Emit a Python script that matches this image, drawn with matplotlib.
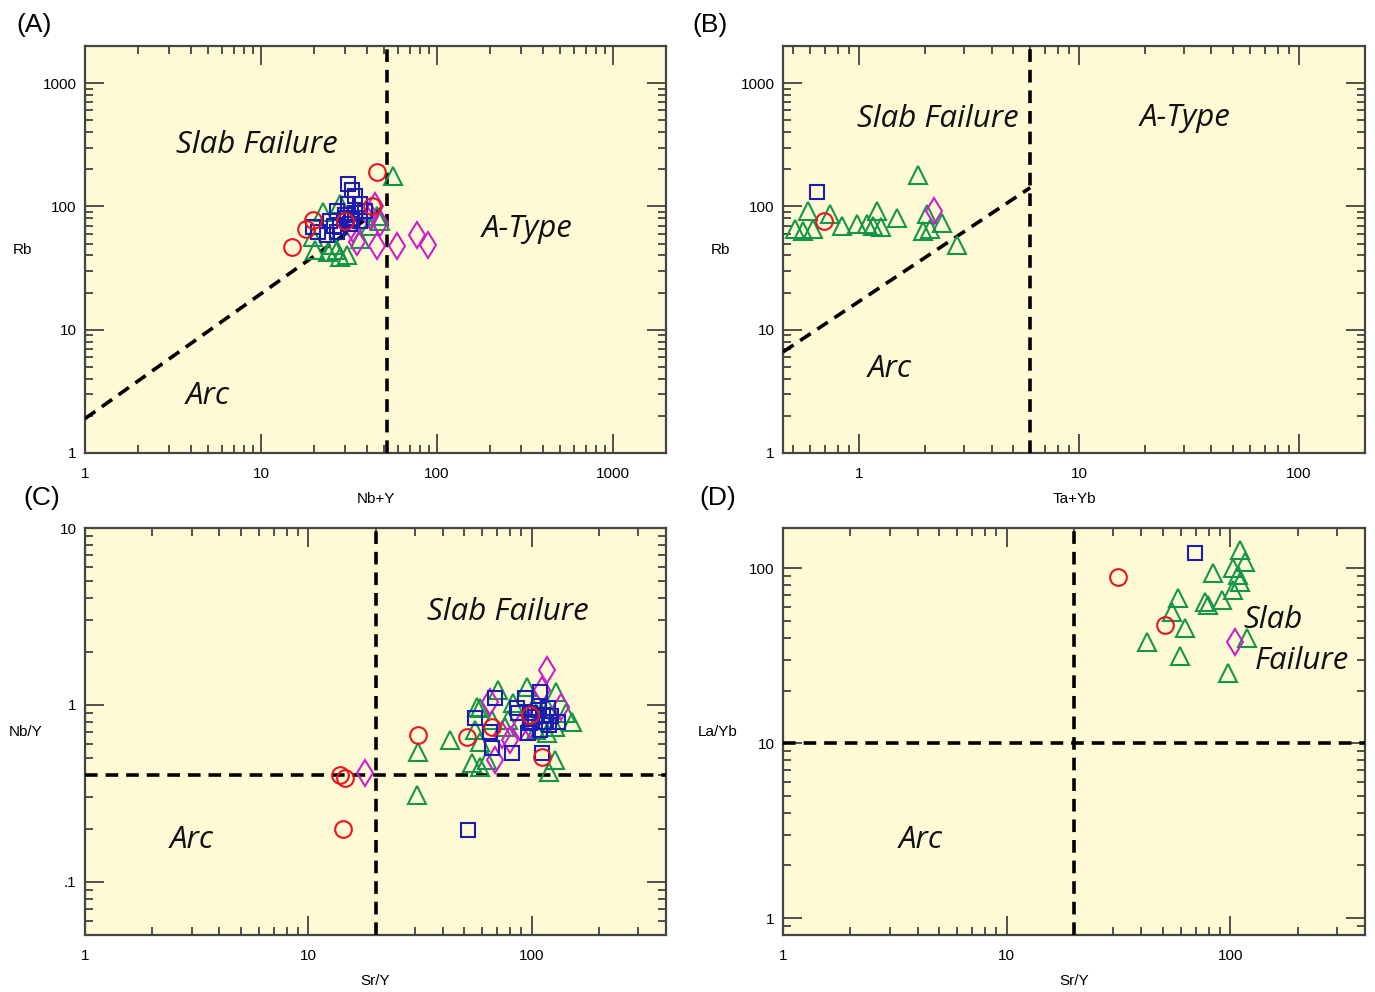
import numpy as np
import matplotlib
matplotlib.use("Agg")
import matplotlib.pyplot as plt
from matplotlib.ticker import FixedLocator, FixedFormatter, LogLocator, NullFormatter

# ---- data ----
# (A) Rb vs Nb+Y
a_red_x = [15.0, 18.0, 19.7, 30, 43, 45.6]
a_red_y = [47, 65, 78, 75.5, 100, 189]
a_blue_x = [31.2, 32.9, 34.2, 31.2, 36.5, 27, 24.7, 19.7, 21.1, 23.7, 27, 36.5, 39, 30.8, 28.1, 32,
            30, 34, 26, 33]
a_blue_y = [151, 137, 121, 104, 104, 91, 75.5, 67.5, 61.5, 59, 61.5, 75.5, 91, 81, 67.5, 71.4,
            85, 88, 70, 78]
a_green_x = [56, 20.3, 24, 28.1, 27, 22.5, 28.1, 36.5, 41.6, 45.6, 19.7, 30.8, 25.7, 47.5]
a_green_y = [175, 44.7, 42.3, 39.2, 44.7, 89.4, 104, 54, 68.8, 83, 56, 40.7, 49, 75.5]
a_mag_x = [45.6, 59.3, 77, 89, 35.1, 33.3, 41.6, 47.5, 44.3]
a_mag_y = [47.3, 47.3, 59, 49, 51, 65, 83, 74, 100]

# (B) Rb vs Ta+Yb
b_red_x = [0.693]
b_red_y = [75.5]
b_blue_x = [0.644]
b_blue_y = [130]
b_green_x = [1.85, 0.512, 0.586, 0.617, 0.556, 0.738, 0.837, 0.98, 1.09, 1.21, 1.16, 1.25,
             1.49, 1.95, 2.1, 2.38, 2.79, 2.04]
b_green_y = [179, 65, 91, 65, 62.6, 86, 68.8, 71.4, 71.4, 91, 68.8, 67.5,
             81, 62.6, 65, 72.8, 49, 86]
b_mag_x = [2.19]
b_mag_y = [91]

# (C) Nb/Y vs Sr/Y
c_red_x = [13.8, 14.6, 14.3, 30.9, 51.2, 66.2, 98, 111]
c_red_y = [0.40, 0.387, 0.20, 0.677, 0.66, 0.75, 0.878, 0.508]
c_blue_x = [68.3, 55.6, 64.9, 66.2, 81.4, 93, 109, 86.5, 98, 118, 131, 109, 96, 111, 85.7, 120, 98, 51.7,
            104, 112, 122, 108, 116, 100]
c_blue_y = [1.095, 0.845, 0.704, 0.572, 0.536, 1.095, 1.18, 0.901, 0.901, 0.962, 0.801, 0.722,
            0.695, 0.536, 0.962, 0.771, 0.791, 0.197,
            0.85, 0.88, 0.86, 0.93, 0.80, 0.80]
c_green_x = [30.9, 30.7, 43, 56.7, 54, 58.5, 120, 127, 70.5, 95, 129, 143, 151, 58.5, 55.6, 58.5,
             66.2, 82.2, 78.1, 105, 117, 127, 75.7, 62.9, 110, 118, 102]
c_green_y = [0.54, 0.31, 0.634, 0.97, 0.47, 0.447, 0.418, 0.489, 1.215, 1.26, 1.18, 0.901, 0.801,
             0.962, 0.722, 0.618, 0.823, 1.026, 0.823, 0.722, 0.695, 0.751, 0.751, 0.489, 0.9, 0.95, 0.96]
c_mag_x = [17.9, 117, 111, 64.9, 136, 73.4, 79.7, 98, 68.3, 88.3]
c_mag_y = [0.413, 1.58, 1.215, 1.04, 0.974, 0.677, 0.634, 0.771, 0.489, 0.751]

# (D) La/Yb vs Sr/Y
d_red_x = [31.5, 51.2]
d_red_y = [88.8, 47.2]
d_blue_x = [69.7]
d_blue_y = [123]
d_green_x = [111, 116, 103, 84, 108, 111, 103, 92, 77.3, 79.6, 58.5, 55, 62.9, 42.5, 59.7, 119, 98]
d_green_y = [127, 108, 101, 93.6, 91, 83, 74.8, 65.6, 64, 61.5, 67.4, 56, 45.4, 37.8, 31.4, 39.8, 25.1]
d_mag_x = [105]
d_mag_y = [37.8]

# boundary lines
a_vline = 52
a_diag_x = [1, 52]
a_diag_y = [1.9, 104]
b_vline = 6
b_diag_x = [0.45, 6]
b_diag_y = [6.6, 142]
c_vline, c_hline = 20, 0.4
d_vline, d_hline = 20, 10

ticks_1_1000 = [1, 10, 100, 1000]
labels_1_1000 = ["1", "10", "100", "1000"]
ticks_1_100 = [1, 10, 100]
labels_1_100 = ["1", "10", "100"]
ticks_c_y = [0.1, 1, 10]
labels_c_y = [".1", "1", "10"]

BG = "#fffad6"
RED, BLUE, GREEN, MAG = "#e8141e", "#1c1cb0", "#14964a", "#cc1fcc"
DASH = dict(color="black", lw=2.6, linestyle=(0, (3.5, 2.2)), zorder=4)
REGION = dict(fontsize=22.5, style="italic", family=["Open Sans", "Lato", "DejaVu Sans"],
              ha="center", va="center", color="#111111", zorder=6)
TICKFONT = ["Liberation Sans", "DejaVu Sans"]


def plot_groups(ax, red, blue, green, mag):
    kw = dict(linestyle="none", markerfacecolor="none", markeredgewidth=1.5, zorder=5)
    ax.plot(*green, marker="^", ms=12.5, markeredgecolor=GREEN, **kw)
    ax.plot(*mag, marker="d", ms=13.5, markeredgecolor=MAG, **kw)
    ax.plot(*blue, marker="s", ms=10.5, markeredgecolor=BLUE, **kw)
    ax.plot(*red, marker="o", ms=12, markeredgecolor=RED, **kw)


def style_axes(ax, xlim, ylim, xticks, xlabels, yticks, ylabels, xlabel, ylabel):
    ax.set_xscale("log")
    ax.set_yscale("log")
    ax.set_xlim(*xlim)
    ax.set_ylim(*ylim)
    ax.set_facecolor(BG)
    ax.xaxis.set_major_locator(FixedLocator(xticks))
    ax.xaxis.set_major_formatter(FixedFormatter(xlabels))
    ax.yaxis.set_major_locator(FixedLocator(yticks))
    ax.yaxis.set_major_formatter(FixedFormatter(ylabels))
    for axis in (ax.xaxis, ax.yaxis):
        axis.set_minor_locator(LogLocator(base=10, subs=np.arange(2, 10), numticks=20))
        axis.set_minor_formatter(NullFormatter())
    ax.tick_params(which="both", direction="in", top=True, right=True, color="#333333",
                   width=1.2, labelsize=11)
    ax.tick_params(which="major", length=14)
    ax.tick_params(which="minor", length=6)
    ax.tick_params(axis="x", pad=10)
    ax.tick_params(axis="y", pad=6)
    for lab in ax.get_xticklabels() + ax.get_yticklabels():
        lab.set_family(TICKFONT)
    for sp in ax.spines.values():
        sp.set_linewidth(1.6)
        sp.set_color("#444444")
    ax.set_xlabel(xlabel, fontsize=11, family=TICKFONT, labelpad=8)
    ax.set_ylabel(ylabel, fontsize=11, family=TICKFONT, rotation=0, ha="center", va="center")
    ax.yaxis.set_label_coords(-0.108, 0.5)


fig = plt.figure(figsize=(13.75, 9.92), dpi=100)
W, H = 1375, 992
def add_ax(l, t, r, b):
    return fig.add_axes([l / W, 1 - b / H, (r - l) / W, (b - t) / H])

axA = add_ax(85, 46, 666, 453)
axB = add_ax(783, 46, 1365, 453)
axC = add_ax(85, 528, 666, 935)
axD = add_ax(783, 528, 1365, 935)

# (A)
plot_groups(axA, (a_red_x, a_red_y), (a_blue_x, a_blue_y), (a_green_x, a_green_y), (a_mag_x, a_mag_y))
axA.axvline(a_vline, **DASH)
axA.plot(a_diag_x, a_diag_y, **DASH)
style_axes(axA, (1, 2000), (1, 2000), ticks_1_1000, labels_1_1000, ticks_1_1000, labels_1_1000,
           "Nb+Y", "Rb")
axA.text(9.5, 313, "Slab Failure", **REGION)
axA.text(325, 65, "A-Type", **REGION)
axA.text(5.0, 2.9, "Arc", **REGION)

# (B)
plot_groups(axB, (b_red_x, b_red_y), (b_blue_x, b_blue_y), (b_green_x, b_green_y), (b_mag_x, b_mag_y))
axB.axvline(b_vline, **DASH)
axB.plot(b_diag_x, b_diag_y, **DASH)
style_axes(axB, (0.45, 200), (1, 2000), ticks_1_100, labels_1_100, ticks_1_1000, labels_1_1000,
           "Ta+Yb", "Rb")
axB.text(2.29, 510, "Slab Failure", **REGION)
axB.text(30.3, 519, "A-Type", **REGION)
axB.text(1.38, 4.8, "Arc", **REGION)

# (C)
plot_groups(axC, (c_red_x, c_red_y), (c_blue_x, c_blue_y), (c_green_x, c_green_y), (c_mag_x, c_mag_y))
axC.axvline(c_vline, **DASH)
axC.axhline(c_hline, **DASH)
style_axes(axC, (1, 400), (0.05, 10), ticks_1_100, labels_1_100, ticks_c_y, labels_c_y,
           "Sr/Y", "Nb/Y")
axC.yaxis.set_label_coords(-0.102, 0.5)
axC.text(78, 3.35, "Slab Failure", **REGION)
axC.text(3.0, 0.173, "Arc", **REGION)

# (D)
plot_groups(axD, (d_red_x, d_red_y), (d_blue_x, d_blue_y), (d_green_x, d_green_y), (d_mag_x, d_mag_y))
axD.axvline(d_vline, **DASH)
axD.axhline(d_hline, **DASH)
style_axes(axD, (1, 400), (0.8, 170), ticks_1_100, labels_1_100, ticks_1_100, labels_1_100,
           "Sr/Y", "La/Yb")
axD.yaxis.set_label_coords(-0.113, 0.5)
region_left = dict(REGION, ha="left")
axD.text(114, 50.5, "Slab", **region_left)
axD.text(128, 29.4, "Failure", **region_left)
axD.text(4.14, 2.79, "Arc", **REGION)

for lab, (x, y) in zip(["(A)", "(B)", "(C)", "(D)"], [(34, 25), (710, 25), (42, 498), (718, 498)]):
    fig.text(x / W, 1 - y / H, lab, fontsize=19, family=TICKFONT, ha="center", va="center")

fig.savefig("out.png", dpi=100, facecolor="white")
